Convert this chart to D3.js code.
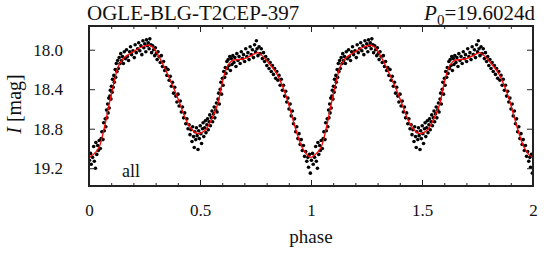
<!DOCTYPE html>
<html>
<head>
<meta charset="utf-8">
<script src="https://cdn.jsdelivr.net/npm/d3@7"></script>
<style>
  body { margin: 0; background: #fff; }
  svg { display: block; }
</style>
</head>
<body>
<div id="chart"></div>
<script>
const FONT = '"Liberation Serif", "Times New Roman", Times, serif';

// tick values
const xMajor = [0, 0.5, 1, 1.5, 2];
const yMajor = [18.0, 18.4, 18.8, 19.2];

// observed points for one cycle: [phase, I mag]; the plot shows it twice
const obsCycle = [
  [0.002, 19.12], [0.007, 19.05], [0.010, 19.16], [0.016, 19.09], [0.021, 18.98], [0.024, 19.13],
  [0.029, 19.20], [0.031, 18.94], [0.035, 19.06], [0.039, 18.97], [0.042, 19.02], [0.046, 18.92],
  [0.051, 19.00], [0.055, 18.90],
  [0.058, 18.83], [0.063, 18.91], [0.066, 18.74], [0.069, 18.82], [0.073, 18.70], [0.076, 18.78],
  [0.079, 18.61], [0.081, 18.69], [0.084, 18.55], [0.086, 18.64], [0.089, 18.49], [0.091, 18.59],
  [0.094, 18.47], [0.096, 18.41], [0.099, 18.50], [0.101, 18.37], [0.104, 18.43], [0.106, 18.30],
  [0.109, 18.38], [0.112, 18.26], [0.114, 18.33], [0.118, 18.20], [0.120, 18.28], [0.123, 18.14],
  [0.126, 18.22], [0.129, 18.11], [0.132, 18.19], [0.136, 18.08], [0.140, 18.14],
  [0.143, 18.04], [0.147, 18.11], [0.151, 18.07], [0.155, 18.14], [0.159, 18.02], [0.164, 18.09],
  [0.169, 18.00], [0.173, 18.07], [0.178, 18.11], [0.183, 18.02], [0.187, 17.97], [0.192, 18.05],
  [0.198, 18.01], [0.204, 18.08], [0.208, 17.95], [0.213, 18.03], [0.219, 17.99], [0.224, 17.93],
  [0.229, 18.01], [0.234, 17.96], [0.238, 18.05], [0.243, 17.91], [0.247, 17.98], [0.251, 17.94],
  [0.256, 18.02], [0.259, 17.90], [0.263, 17.96], [0.267, 17.93], [0.271, 17.99], [0.274, 17.89],
  [0.279, 17.95], [0.282, 18.03], [0.287, 17.96], [0.291, 18.00], [0.296, 18.06], [0.299, 17.98],
  [0.303, 18.04], [0.307, 18.10], [0.311, 18.02], [0.316, 18.07], [0.321, 18.13], [0.326, 18.06],
  [0.331, 18.17], [0.336, 18.12], [0.341, 18.21], [0.346, 18.18], [0.351, 18.26], [0.356, 18.20],
  [0.361, 18.31], [0.366, 18.27], [0.371, 18.37], [0.376, 18.33], [0.381, 18.44], [0.386, 18.38],
  [0.391, 18.47], [0.396, 18.53], [0.401, 18.45], [0.406, 18.57], [0.411, 18.52], [0.416, 18.63],
  [0.421, 18.58], [0.426, 18.69], [0.431, 18.64], [0.436, 18.75], [0.441, 18.70], [0.446, 18.80],
  [0.451, 18.76], [0.455, 18.86], [0.459, 18.81], [0.464, 18.93], [0.467, 18.78], [0.471, 18.88],
  [0.474, 18.99], [0.477, 18.83], [0.481, 18.91], [0.484, 18.79], [0.487, 18.87], [0.491, 19.01],
  [0.494, 18.82], [0.497, 18.90], [0.501, 18.77], [0.504, 18.85], [0.507, 18.95], [0.511, 18.80],
  [0.514, 18.74], [0.517, 18.88], [0.521, 18.79], [0.524, 18.72], [0.527, 18.84], [0.531, 18.76],
  [0.534, 18.70], [0.537, 18.81], [0.541, 18.73], [0.544, 18.66], [0.547, 18.77], [0.551, 18.69],
  [0.554, 18.62],
  [0.557, 18.73], [0.561, 18.65], [0.564, 18.58], [0.567, 18.69], [0.571, 18.61], [0.574, 18.54],
  [0.577, 18.63], [0.581, 18.50], [0.584, 18.44], [0.587, 18.55], [0.591, 18.40], [0.594, 18.33],
  [0.597, 18.45], [0.601, 18.29], [0.604, 18.36], [0.607, 18.22], [0.611, 18.28], [0.614, 18.18],
  [0.617, 18.24], [0.621, 18.12], [0.624, 18.19], [0.627, 18.10], [0.631, 18.16], [0.634, 18.07],
  [0.637, 18.21], [0.641, 18.09], [0.644, 18.15],
  [0.648, 18.06], [0.653, 18.13], [0.657, 18.08], [0.662, 18.17], [0.666, 18.04], [0.671, 18.11],
  [0.676, 18.07], [0.681, 18.14], [0.686, 18.02], [0.691, 18.09], [0.696, 18.05], [0.701, 18.12],
  [0.706, 17.99], [0.711, 18.07], [0.716, 18.03], [0.721, 18.10], [0.726, 17.97], [0.731, 18.05],
  [0.736, 18.00], [0.741, 18.08], [0.746, 17.95], [0.750, 18.02], [0.754, 17.91], [0.757, 17.99],
  [0.761, 18.06], [0.766, 17.97], [0.771, 18.04], [0.776, 17.99], [0.781, 18.09], [0.786, 18.03],
  [0.791, 18.12], [0.796, 18.07],
  [0.801, 18.16], [0.806, 18.10], [0.811, 18.19], [0.816, 18.13], [0.821, 18.22], [0.826, 18.16],
  [0.831, 18.25], [0.836, 18.19], [0.841, 18.29], [0.846, 18.22], [0.851, 18.31], [0.856, 18.26],
  [0.861, 18.36], [0.866, 18.30], [0.871, 18.41], [0.876, 18.36], [0.881, 18.47], [0.886, 18.42],
  [0.891, 18.53], [0.896, 18.49], [0.901, 18.60], [0.906, 18.55], [0.911, 18.67], [0.916, 18.62],
  [0.921, 18.75], [0.926, 18.70], [0.931, 18.83], [0.936, 18.78], [0.941, 18.90], [0.946, 18.85],
  [0.951, 18.96], [0.956, 18.91], [0.961, 19.02], [0.966, 18.97], [0.971, 19.08], [0.976, 19.03],
  [0.981, 19.13], [0.986, 19.09], [0.989, 19.19], [0.993, 19.06], [0.997, 19.25]
];

// fitted light curve, one cycle
const fitPhase = [
  0.00, 0.02, 0.045, 0.07, 0.09, 0.115, 0.13, 0.15, 0.17, 0.20,
  0.23, 0.265, 0.285, 0.305, 0.34, 0.38, 0.41, 0.435, 0.46, 0.49,
  0.525, 0.555, 0.58, 0.595, 0.61, 0.625, 0.645, 0.67, 0.70, 0.73,
  0.76, 0.78, 0.80, 0.845, 0.885, 0.915, 0.94, 0.96, 0.985, 1.00
];
const fitMag = [
  19.09, 19.06, 18.99, 18.78, 18.56, 18.31, 18.18, 18.10, 18.06, 18.02,
  17.98, 17.955, 17.97, 18.03, 18.18, 18.38, 18.55, 18.70, 18.80, 18.85,
  18.81, 18.69, 18.55, 18.39, 18.25, 18.16, 18.11, 18.10, 18.09, 18.06,
  18.03, 18.06, 18.11, 18.24, 18.45, 18.68, 18.87, 18.99, 19.07, 19.09
];

const W = 548, H = 253;
const margin = { top: 26, right: 15, bottom: 67, left: 89 };
const width = W - margin.left - margin.right;
const height = H - margin.top - margin.bottom;

const svg = d3.select("#chart").append("svg")
  .attr("width", W)
  .attr("height", H);

const g = svg.append("g")
  .attr("transform", `translate(${margin.left}, ${margin.top})`);

const x = d3.scaleLinear().domain([0, 2]).range([0, width]);
const y = d3.scaleLinear().domain([17.76, 19.38]).range([0, height]);

// repeat the cycle over phase 0..2
const points = [];
[0, 1].forEach(k => obsCycle.forEach(d => points.push([d[0] + k, d[1]])));
const fit = [];
[0, 1].forEach(k => {
  fitPhase.forEach((p, i) => {
    if (k === 1 && i === 0) return;
    fit.push([p + k, fitMag[i]]);
  });
});

g.append("clipPath").attr("id", "clip")
  .append("rect").attr("width", width).attr("height", height);

const plot = g.append("g").attr("clip-path", "url(#clip)");

plot.selectAll("circle")
  .data(points)
  .join("circle")
  .attr("cx", d => x(d[0]))
  .attr("cy", d => y(d[1]))
  .attr("r", 1.8)
  .attr("fill", "#000");

plot.append("path")
  .datum(fit)
  .attr("fill", "none")
  .attr("stroke", "#f00")
  .attr("stroke-width", 1.3)
  .attr("d", d3.line().x(d => x(d[0])).y(d => y(d[1])).curve(d3.curveCatmullRom));

// ticks, all pointing inward
const xMinor = d3.range(0, 21).map(i => i / 10);
const yMinor = d3.range(18, 34).map(i => i / 10);

function styleAxis(sel) {
  sel.attr("font-family", null);
  sel.select(".domain").remove();
  sel.selectAll("line").attr("stroke", "#222").attr("stroke-width", 1);
  sel.selectAll("text")
    .style("font-size", "17px")
    .style("font-family", FONT)
    .attr("fill", "#111");
}

g.append("g").attr("transform", `translate(0, ${height})`)
  .call(d3.axisBottom(x).tickValues(xMinor).tickSize(-3).tickFormat(""))
  .call(styleAxis);
g.append("g").attr("transform", `translate(0, ${height})`)
  .call(d3.axisBottom(x).tickValues(xMajor).tickSize(-6).tickPadding(18).tickFormat(d3.format("")))
  .call(styleAxis);
g.append("g")
  .call(d3.axisTop(x).tickValues(xMinor).tickSize(-3).tickFormat(""))
  .call(styleAxis);
g.append("g")
  .call(d3.axisTop(x).tickValues(xMajor).tickSize(-6).tickFormat(""))
  .call(styleAxis);

g.append("g")
  .call(d3.axisLeft(y).tickValues(yMinor).tickSize(-3).tickFormat(""))
  .call(styleAxis);
g.append("g")
  .call(d3.axisLeft(y).tickValues(yMajor).tickSize(-6).tickPadding(26).tickFormat(d3.format(".1f")))
  .call(styleAxis);
g.append("g").attr("transform", `translate(${width}, 0)`)
  .call(d3.axisRight(y).tickValues(yMinor).tickSize(-3).tickFormat(""))
  .call(styleAxis);
g.append("g").attr("transform", `translate(${width}, 0)`)
  .call(d3.axisRight(y).tickValues(yMajor).tickSize(-6).tickFormat(""))
  .call(styleAxis);

// frame
g.append("rect")
  .attr("width", width)
  .attr("height", height)
  .attr("fill", "none")
  .attr("stroke", "#222")
  .attr("stroke-width", 2);

g.append("text")
  .attr("x", 33)
  .attr("y", height - 9)
  .style("font-family", FONT)
  .style("font-size", "18px")
  .attr("fill", "#111")
  .text("all");

// titles
svg.append("text")
  .attr("x", 87)
  .attr("y", 20)
  .style("font-family", FONT)
  .style("font-size", "21px")
  .attr("fill", "#111")
  .text("OGLE-BLG-T2CEP-397");

const p0 = svg.append("text")
  .attr("x", 535)
  .attr("y", 20)
  .attr("text-anchor", "end")
  .style("font-family", FONT)
  .style("font-size", "21px")
  .attr("fill", "#111");
p0.append("tspan").style("font-style", "italic").text("P");
p0.append("tspan").attr("dy", 5).style("font-size", "15px").text("0");
p0.append("tspan").attr("dy", -5).text("=19.6024d");

svg.append("text")
  .attr("x", margin.left + width / 2)
  .attr("y", 243)
  .attr("text-anchor", "middle")
  .style("font-family", FONT)
  .style("font-size", "19px")
  .attr("fill", "#111")
  .text("phase");

const yl = svg.append("text")
  .attr("transform", `translate(21, ${margin.top + height / 2 - 2}) rotate(-90)`)
  .attr("text-anchor", "middle")
  .style("font-family", FONT)
  .style("font-size", "20px")
  .attr("fill", "#111");
yl.append("tspan").style("font-style", "italic").text("I");
yl.append("tspan").text(" [mag]");
</script>
</body>
</html>
